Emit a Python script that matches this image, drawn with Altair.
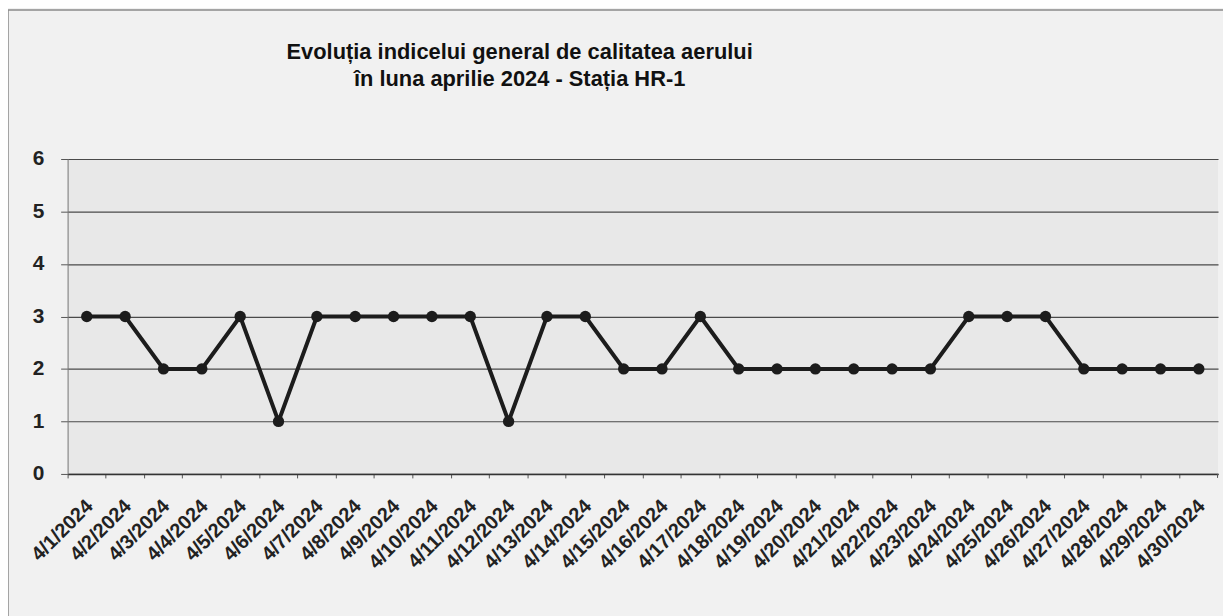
import altair as alt
import pandas as pd

dates = ["4/1/2024", "4/2/2024", "4/3/2024", "4/4/2024", "4/5/2024", "4/6/2024",
         "4/7/2024", "4/8/2024", "4/9/2024", "4/10/2024", "4/11/2024", "4/12/2024",
         "4/13/2024", "4/14/2024", "4/15/2024", "4/16/2024", "4/17/2024", "4/18/2024",
         "4/19/2024", "4/20/2024", "4/21/2024", "4/22/2024", "4/23/2024", "4/24/2024",
         "4/25/2024", "4/26/2024", "4/27/2024", "4/28/2024", "4/29/2024", "4/30/2024"]
values = [3, 3, 2, 2, 3, 1, 3, 3, 3, 3,
          3, 1, 3, 3, 2, 2, 3, 2, 2, 2,
          2, 2, 2, 3, 3, 3, 2, 2, 2, 2]
y_ticks = [0, 1, 2, 3, 4, 5, 6]
title_lines = ["Evoluția indicelui general de calitatea aerului",
               "în luna aprilie 2024 - Stația HR-1"]

df = pd.DataFrame({"date": dates, "value": values})
FONT = "Liberation Sans"
INK = "#1c1c1c"

x_enc = alt.X(
    "date:N", sort=dates, title=None,
    scale=alt.Scale(type="band", paddingInner=0, paddingOuter=0),
    axis=alt.Axis(bandPosition=0, labelAngle=-45, labelAlign="right",
                  labelBaseline="middle", labelFontSize=20, labelFont=FONT,
                  labelFontWeight="bold", labelColor="#222", labelPadding=25,
                  labelOffset=3, tickSize=4, tickColor="#555",
                  domainColor="#333", domainWidth=1.5, grid=False),
)
y_enc = alt.Y(
    "value:Q", title=None,
    scale=alt.Scale(domain=[0, 6], nice=False),
    axis=alt.Axis(values=y_ticks, format="d", labelFontSize=21, labelFont=FONT,
                  labelFontWeight="bold", labelColor="#222", labelPadding=17,
                  tickSize=7, tickColor="#555", domainColor="#777",
                  grid=True, gridColor="#4a4a4a", gridWidth=1.2, gridOpacity=1),
)

base = alt.Chart(df).encode(x=x_enc, y=y_enc)
line = base.mark_line(color=INK, strokeWidth=4)
pts = base.mark_point(filled=True, size=130, color=INK, opacity=1)

single = alt.Data(values=[{"a": 1}])
frame = alt.Chart(single).mark_rect(
    filled=False, stroke="#8a8a8a", strokeWidth=1.5
).encode(x=alt.value(-60), x2=alt.value(1250), y=alt.value(-150), y2=alt.value(520))

end_tick = alt.Chart(single).mark_rule(color="#555", strokeWidth=1).encode(
    x=alt.value(1157.5), y=alt.value(317), y2=alt.value(321))

title = alt.Chart(single).mark_text(
    font=FONT, fontSize=22, fontWeight="bold", color="#111", align="center",
    baseline="alphabetic", lineBreak="\n", lineHeight=28
).encode(text=alt.value("\n".join(title_lines)), x=alt.value(455), y=alt.value(-101))

chart = alt.layer(frame, line, pts, end_tick, title).properties(
    width=1158, height=317,
    autosize=alt.AutoSizeParams(type="none"),
    padding={"left": 60, "top": 150, "right": 5, "bottom": 141},
).configure(background="#f1f1f1").configure_view(stroke=None, fill="#e8e8e8")

chart.save("out.html", embed_options={"renderer": "svg", "actions": False})
